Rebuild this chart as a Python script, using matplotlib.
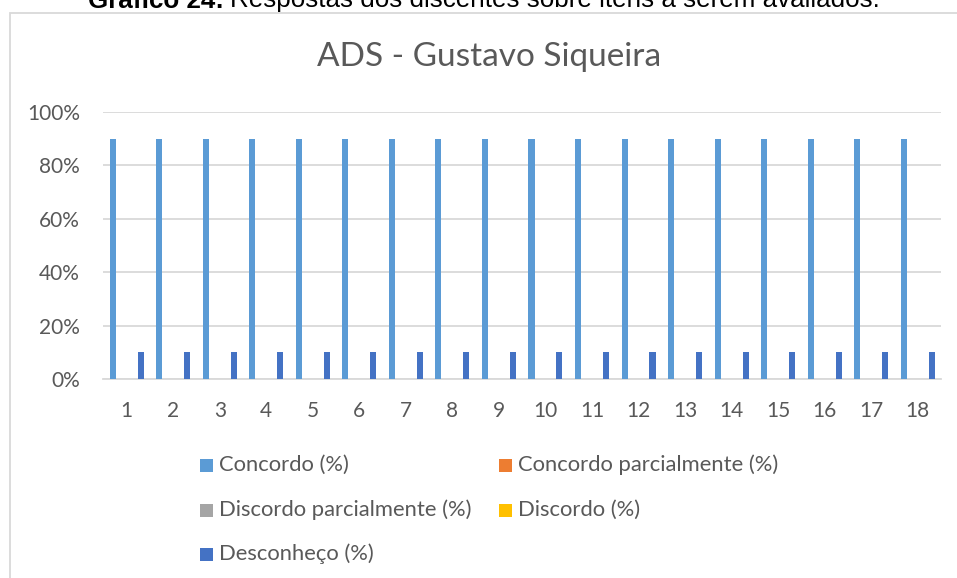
import matplotlib
matplotlib.use("Agg")
import matplotlib.pyplot as plt
from matplotlib.patches import Rectangle
import numpy as np

categories = [str(i) for i in range(1, 19)]
series_names = ["Concordo (%)", "Concordo parcialmente (%)",
                "Discordo parcialmente (%)", "Discordo (%)", "Desconheço (%)"]
concordo = [90] * 18
concordo_parcial = [0] * 18
discordo_parcial = [0] * 18
discordo = [0] * 18
desconheco = [10] * 18
yticks = [0, 20, 40, 60, 80, 100]

colors = ["#5B9BD5", "#ED7D31", "#A5A5A5", "#FFC000", "#4472C4"]
TXT = "#595959"
FONT = "Lato"

W, H = 957, 578
fig = plt.figure(figsize=(W / 100, H / 100), dpi=100)

# chart border
fig.patches.append(Rectangle((9.5 / W, -0.05), 2.0, 1 - 12.5 / H + 0.05,
                             transform=fig.transFigure, fill=False,
                             edgecolor="#D9D9D9", linewidth=1.3))

# document caption (partly cut off at the top, as in the source)
renderer = fig.canvas.get_renderer()
t1 = fig.text(88 / W, 1 - 7.5 / H, "Gráfico 24:", fontsize=18.7,
              fontweight="bold", family="Liberation Sans", ha="left",
              va="baseline", color="black")
bb = t1.get_window_extent(renderer=renderer)
fig.text((bb.x1 + 6) / W, 1 - 7.5 / H,
         "Respostas dos discentes sobre itens a serem avaliados.",
         fontsize=18.7, family="Liberation Sans", ha="left", va="baseline",
         color="black")

ax = fig.add_axes([103.4 / W, 1 - 379 / H, (941 - 103.4) / W, (379 - 112) / H])

data = [concordo, concordo_parcial, discordo_parcial, discordo, desconheco]
x = np.arange(1, len(categories) + 1)
for i, (name, vals) in enumerate(zip(series_names, data)):
    ax.bar(x + (i - 2) * 0.15, vals, width=0.13, color=colors[i], label=name,
           zorder=3)

ax.set_xlim(0.5, len(categories) + 0.5)
ax.set_ylim(0, 100)
ax.set_yticks(yticks)
ax.set_yticklabels([f"{v}%" for v in yticks])
ax.set_xticks(x)
ax.set_xticklabels(categories)
ax.grid(axis="y", color="#D9D9D9", linewidth=1.3, zorder=0)
for s in ["top", "right", "left"]:
    ax.spines[s].set_visible(False)
ax.spines["bottom"].set_color("#D9D9D9")
ax.spines["bottom"].set_linewidth(1.3)
ax.tick_params(length=0, labelsize=15, labelcolor=TXT)
ax.tick_params(axis="y", pad=17)
ax.tick_params(axis="x", pad=16)
for lab in ax.get_xticklabels() + ax.get_yticklabels():
    lab.set_family(FONT)

fig.text(489 / W, 1 - 57 / H, "ADS - Gustavo Siqueira", fontsize=24,
         family=FONT, color=TXT, ha="center", va="center")

# legend, row-major in two columns
col_x = [200, 499]
row_y = [465, 510, 554]
sq = 13
for i, name in enumerate(series_names):
    r, c = divmod(i, 2)
    x0, yc = col_x[c], row_y[r]
    fig.patches.append(Rectangle((x0 / W, 1 - (yc + sq / 2) / H), sq / W, sq / H,
                                 transform=fig.transFigure,
                                 facecolor=colors[i], edgecolor="none"))
    fig.text((x0 + sq + 6) / W, 1 - yc / H, name, fontsize=15.8, family=FONT,
             color=TXT, ha="left", va="center")

fig.savefig("out.png", dpi=100)
